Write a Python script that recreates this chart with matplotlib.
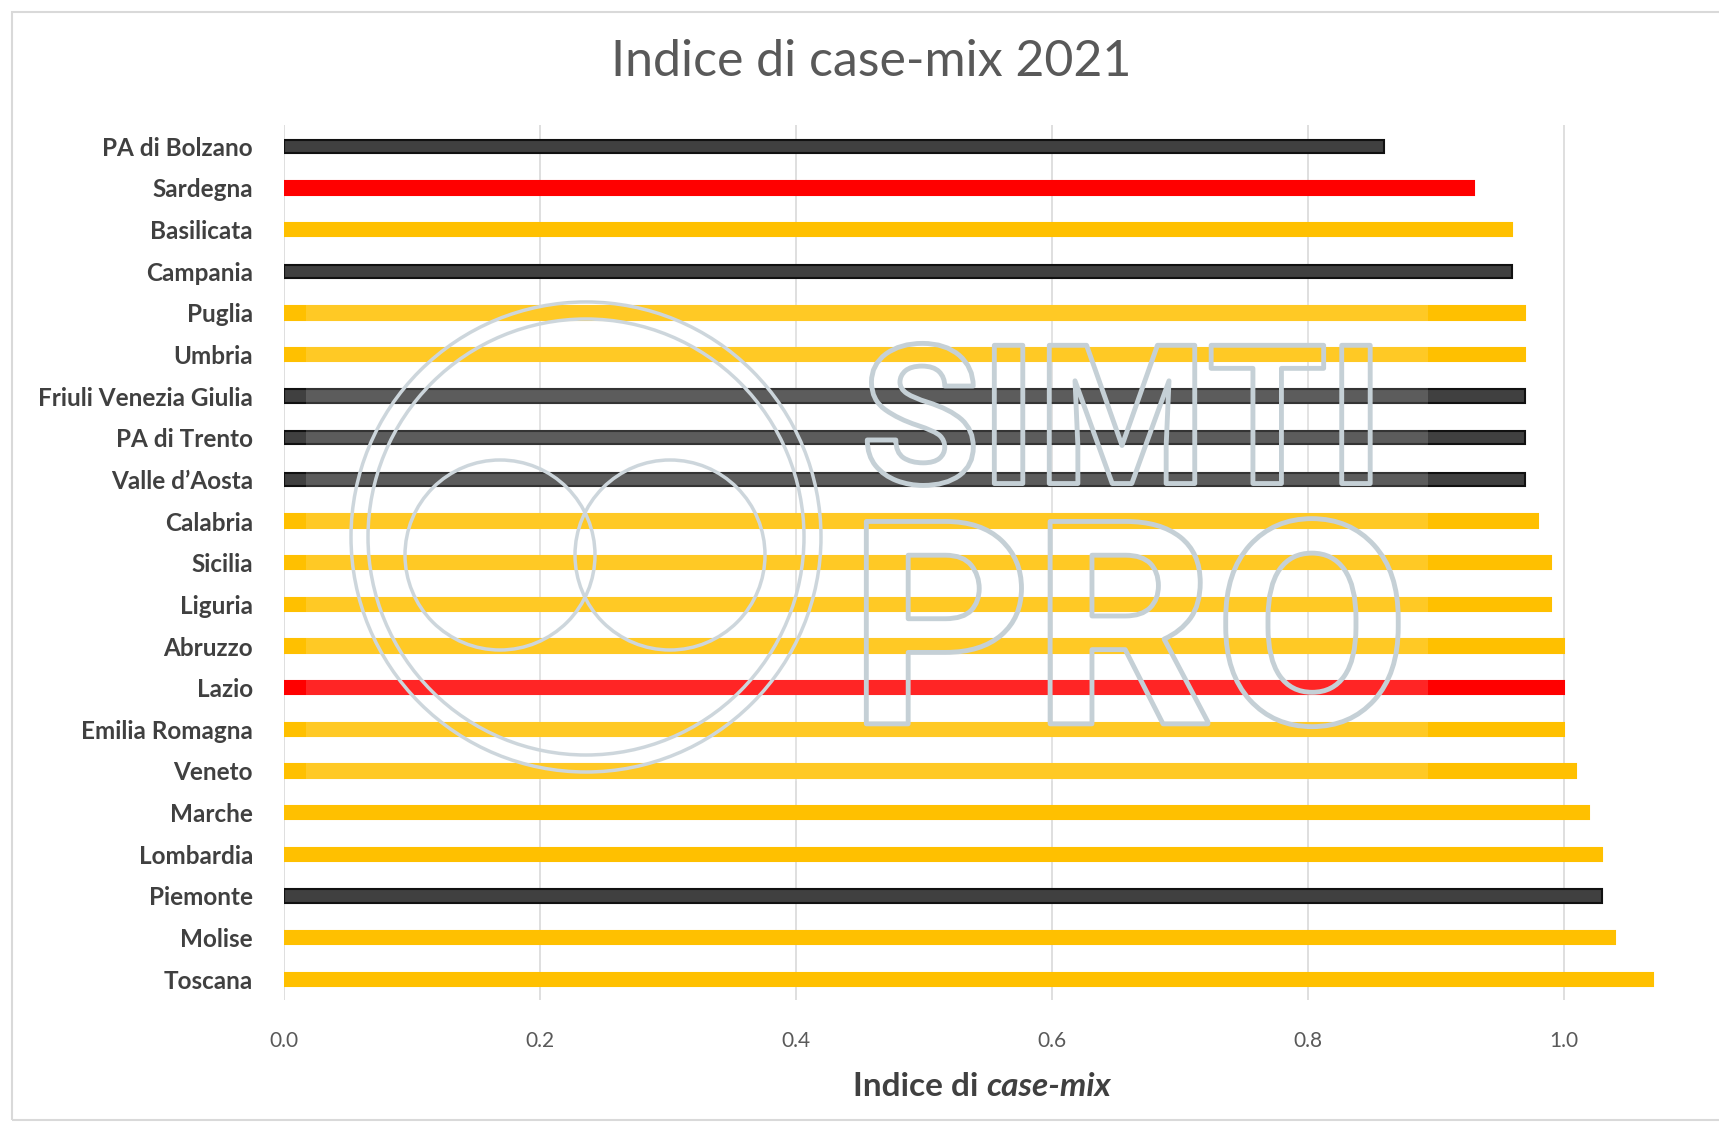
import matplotlib.pyplot as plt
import matplotlib.patheffects as pe
from matplotlib.patches import Rectangle, Circle

# regioni dall'alto in basso
regioni = ['PA di Bolzano', 'Sardegna', 'Basilicata', 'Campania', 'Puglia',
           'Umbria', 'Friuli Venezia Giulia', 'PA di Trento', "Valle d\u2019Aosta",
           'Calabria', 'Sicilia', 'Liguria', 'Abruzzo', 'Lazio', 'Emilia Romagna',
           'Veneto', 'Marche', 'Lombardia', 'Piemonte', 'Molise', 'Toscana']
case_mix = [0.86, 0.93, 0.96, 0.96, 0.97, 0.97, 0.97, 0.97, 0.97, 0.98, 0.99,
            0.99, 1.00, 1.00, 1.00, 1.01, 1.02, 1.03, 1.03, 1.04, 1.07]
# fascia di colore per regione (g = giallo, n = nero, r = rosso)
fascia = ['n', 'r', 'g', 'n', 'g', 'g', 'n', 'n', 'n', 'g', 'g', 'g', 'g', 'r',
          'g', 'g', 'g', 'g', 'n', 'g', 'g']
tick_x = [0.0, 0.2, 0.4, 0.6, 0.8, 1.0]

colori = {'g': '#FFC000', 'n': '#404040', 'r': '#FF0000'}
bordi = {'g': '#FFC000', 'n': '#111111', 'r': '#FF0000'}

fig = plt.figure(figsize=(17.19, 11.30), dpi=100)
ax = fig.add_axes([0.165, 0.115, 0.819, 0.774])

y = list(range(len(regioni)))
ax.barh(y, case_mix, height=0.32,
        color=[colori[f] for f in fascia],
        edgecolor=[bordi[f] for f in fascia], linewidth=1.5, zorder=3)

ax.set_xlim(0, 1.1)
ax.set_ylim(len(regioni) - 0.5, -0.5)
ax.set_yticks(y)
ax.set_yticklabels(regioni, fontsize=17.5, fontweight='bold', color='#404040',
                   family='Lato')
ax.set_xticks(tick_x)
ax.set_xticklabels([f'{v:.1f}' for v in tick_x], fontsize=15, color='#595959',
                   family='Lato')
ax.tick_params(axis='both', length=0)
ax.tick_params(axis='x', pad=22)
ax.tick_params(axis='y', pad=22)
ax.grid(axis='x', color='#D9D9D9', linewidth=1.2, zorder=0)
for s in ax.spines.values():
    s.set_visible(False)

fig.text(0.507, 0.945, 'Indice di case-mix 2021', ha='center', va='center',
         fontsize=36, color='#595959', family='Lato')

# etichetta asse x con "case-mix" in corsivo
t1 = fig.text(0.574, 0.03, 'Indice di ', ha='right', va='baseline',
              fontsize=24, fontweight='bold', color='#404040', family='Lato')
ax.annotate('case-mix', xy=(1, 0), xycoords=t1, va='bottom', ha='left',
            fontsize=24, fontweight='bold', fontstyle='italic',
            color='#404040', family='Lato', annotation_clip=False)

# filigrana (solo contorno)
grigio = '#C5D0D6'
contorno = [pe.Stroke(linewidth=3.5, foreground=grigio)]
fig.text(0.653, 0.619, 'SIMTI', ha='center', va='center', fontsize=140,
         color='none', family='Roboto', fontweight='bold',
         path_effects=contorno)
fig.text(0.657, 0.428, 'PRO', ha='center', va='center', fontsize=205,
         color='none', family='Roboto', fontweight='bold',
         path_effects=contorno)
for r in (2.35, 2.18):
    fig.add_artist(Circle((5.86, 5.93), r, transform=fig.dpi_scale_trans,
                          fill=False, edgecolor=grigio, linewidth=2.5))
for cx, cy in ((5.0, 5.75), (6.7, 5.75)):
    fig.add_artist(Circle((cx, cy), 0.95, transform=fig.dpi_scale_trans,
                          fill=False, edgecolor=grigio, linewidth=2.5))
fig.add_artist(Rectangle((0.178, 0.309), 0.653, 0.424, transform=fig.transFigure,
                         facecolor='white', alpha=0.15, edgecolor='none'))

# cornice del grafico
fig.add_artist(Rectangle((0.007, 0.009), 1.1, 0.98, transform=fig.transFigure,
                         fill=False, edgecolor='#D9D9D9', linewidth=1.5))

fig.savefig('out.png', dpi=100)
